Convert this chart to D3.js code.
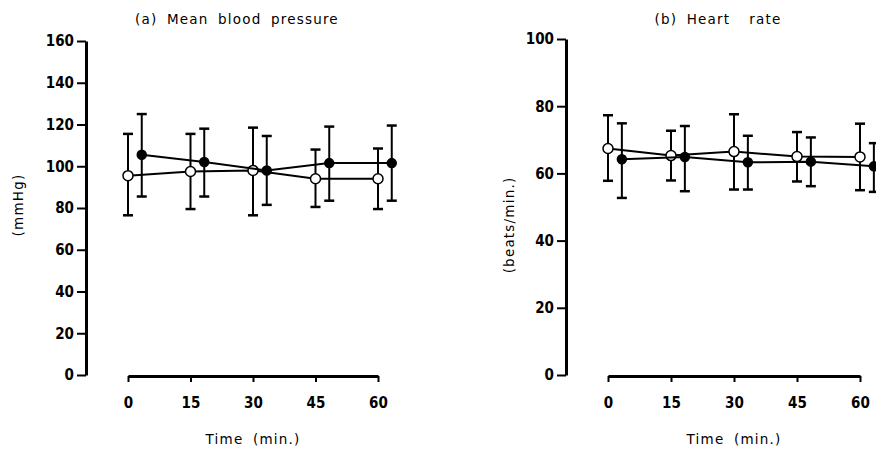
<!DOCTYPE html>
<html>
<head>
<meta charset="utf-8">
<script src="https://cdn.jsdelivr.net/npm/d3@7"></script>
<style>
  body { margin: 0; background: #fff; }
  svg text { fill: #000; }
  .tick text { font-family: "DejaVu Sans Condensed", "DejaVu Sans", sans-serif; font-stretch: condensed; font-weight: bold; font-size: 15px; }
  .lbl { font-family: "DejaVu Sans", sans-serif; font-size: 13.5px; letter-spacing: 1.2px; word-spacing: 4px; white-space: pre; }
</style>
</head>
<body>
<svg id="chart" width="876" height="455"></svg>
<script>
// time points (min)
var times = [0, 15, 30, 45, 60];

// (a) mean blood pressure, mmHg
var bpOpen = [95.5, 97.5, 98, 94, 94];
var bpOpenHi = [115.5, 115.5, 118.5, 108, 108.5];
var bpOpenLo = [76.5, 79.5, 76.5, 80.5, 79.5];
var bpFilled = [105.5, 102, 98, 101.5, 101.5];
var bpFilledHi = [125, 118, 114.5, 119, 119.5];
var bpFilledLo = [85.5, 85.5, 81.5, 83.5, 83.5];

// (b) heart rate, beats/min
var hrOpen = [67.4, 65.3, 66.5, 65, 64.9];
var hrOpenHi = [77.3, 72.7, 77.6, 72.3, 74.8];
var hrOpenLo = [57.8, 57.9, 55.2, 57.6, 55];
var hrFilled = [64.2, 64.9, 63.3, 63.5, 62.1];
var hrFilledHi = [74.9, 74.1, 71.2, 70.7, 69];
var hrFilledLo = [52.7, 54.7, 55.2, 56.2, 54.5];

var bpTicks = [0, 20, 40, 60, 80, 100, 120, 140, 160];
var hrTicks = [0, 20, 40, 60, 80, 100];

var svg = d3.select("#chart");
var offset = 3.3; // filled symbols drawn slightly to the right

function panel(o) {
  var x = d3.scaleLinear().domain([0, 60]).range([o.x0, o.x1]);
  var y = d3.scaleLinear().domain([0, o.ymax]).range([375, o.ytop]);
  var g = svg.append("g");

  var ya = g.append("g")
      .attr("transform", "translate(" + o.yaxis + ",0)")
      .call(d3.axisLeft(y).tickValues(o.ticks).tickSize(9).tickSizeOuter(0).tickPadding(3));
  ya.select(".domain").attr("stroke-width", 3);
  ya.selectAll(".tick line").attr("stroke-width", 2);

  var xa = g.append("g")
      .attr("transform", "translate(0,376)")
      .call(d3.axisBottom(x).tickValues(times).tickSize(6).tickSizeOuter(0).tickPadding(15));
  xa.select(".domain").attr("stroke-width", 3);
  xa.selectAll(".tick line").attr("stroke-width", 2);

  g.append("text").attr("class", "lbl")
      .attr("x", o.titleX).attr("y", 24)
      .attr("text-anchor", "middle")
      .text(o.title);

  g.append("text").attr("class", "lbl")
      .attr("x", (o.x0 + o.x1) / 2).attr("y", 444)
      .attr("text-anchor", "middle")
      .text("Time (min.)");

  g.append("text").attr("class", "lbl")
      .attr("transform", "translate(" + o.ylabX + "," + o.ylabY + ") rotate(-90)")
      .attr("text-anchor", "middle")
      .text(o.ylabel);

  var series = [
    {v: o.open, hi: o.openHi, lo: o.openLo, dx: 0, fill: "#fff", r: 5},
    {v: o.filled, hi: o.filledHi, lo: o.filledLo, dx: offset, fill: "#000", r: 4.5}
  ];

  var line = d3.line().x(function(d) { return x(d.t); }).y(function(d) { return y(d.v); });

  series.forEach(function(s) {
    var pts = times.map(function(t, i) { return {t: t + s.dx, v: s.v[i], hi: s.hi[i], lo: s.lo[i]}; });
    g.append("path").datum(pts)
        .attr("d", line)
        .attr("fill", "none").attr("stroke", "#000").attr("stroke-width", 2);

    var eb = g.selectAll(null).data(pts).enter().append("g");
    eb.append("line")
        .attr("x1", function(d) { return x(d.t); }).attr("x2", function(d) { return x(d.t); })
        .attr("y1", function(d) { return y(d.hi); }).attr("y2", function(d) { return y(d.lo); })
        .attr("stroke", "#000").attr("stroke-width", 2);
    eb.append("line")
        .attr("x1", function(d) { return x(d.t) - 5; }).attr("x2", function(d) { return x(d.t) + 5; })
        .attr("y1", function(d) { return y(d.hi); }).attr("y2", function(d) { return y(d.hi); })
        .attr("stroke", "#000").attr("stroke-width", 2.5);
    eb.append("line")
        .attr("x1", function(d) { return x(d.t) - 5; }).attr("x2", function(d) { return x(d.t) + 5; })
        .attr("y1", function(d) { return y(d.lo); }).attr("y2", function(d) { return y(d.lo); })
        .attr("stroke", "#000").attr("stroke-width", 2.5);
    eb.append("circle")
        .attr("cx", function(d) { return x(d.t); })
        .attr("cy", function(d) { return y(d.v); })
        .attr("r", s.r)
        .attr("fill", s.fill).attr("stroke", "#000").attr("stroke-width", 1.5);
  });
}

panel({
  x0: 128, x1: 378, yaxis: 86, ytop: 41, ymax: 160, ticks: bpTicks,
  title: "(a) Mean blood pressure", titleX: 237,
  ylabel: "(mmHg)", ylabX: 23, ylabY: 205,
  open: bpOpen, openHi: bpOpenHi, openLo: bpOpenLo,
  filled: bpFilled, filledHi: bpFilledHi, filledLo: bpFilledLo
});

panel({
  x0: 608, x1: 860, yaxis: 566, ytop: 39, ymax: 100, ticks: hrTicks,
  title: "(b) Heart  rate", titleX: 718,
  ylabel: "(beats/min.)", ylabX: 514, ylabY: 225,
  open: hrOpen, openHi: hrOpenHi, openLo: hrOpenLo,
  filled: hrFilled, filledHi: hrFilledHi, filledLo: hrFilledLo
});
</script>
</body>
</html>
